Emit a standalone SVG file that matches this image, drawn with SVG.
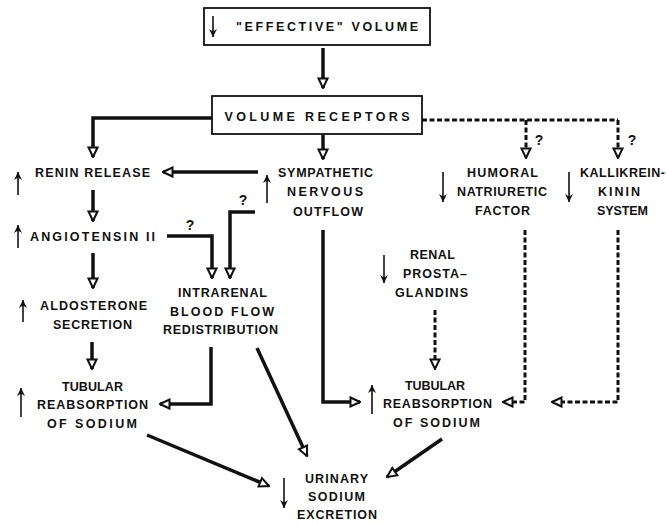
<svg xmlns="http://www.w3.org/2000/svg" width="666" height="524" viewBox="0 0 666 524">
<style>
text{font-family:"Liberation Sans",Arial,sans-serif;font-weight:bold;font-size:12.5px;fill:#111;text-anchor:middle}
.q{font-size:14px}
.box{fill:#fff;stroke:#111;stroke-width:1.8}
.c{fill:none;stroke:#111;stroke-width:3.5;marker-end:url(#open)}
.cn{fill:none;stroke:#111;stroke-width:3.5}
.d{fill:none;stroke:#111;stroke-width:3;stroke-dasharray:5 2.5;marker-end:url(#open)}
.dn{fill:none;stroke:#111;stroke-width:3;stroke-dasharray:5 2.5}
.t{fill:none;stroke:#111;stroke-width:1.6;marker-end:url(#solid)}
</style>
<defs>
<marker id="open" viewBox="0 0 12 12" markerUnits="userSpaceOnUse" markerWidth="12" markerHeight="12" refX="11" refY="6" orient="auto">
<path d="M1.5,1.5 L11,6 L1.5,10.5 Z" fill="#fff" stroke="#111" stroke-width="2"/>
</marker>
<marker id="solid" viewBox="0 0 10 10" markerUnits="userSpaceOnUse" markerWidth="8" markerHeight="8" refX="10" refY="5" orient="auto">
<path d="M0,0 L10,5 L0,10 L3,5 Z" fill="#111"/>
</marker>
</defs>
<rect width="666" height="524" fill="#fff"/>

<g id="connectors">
<path class="c" d="M323,48 V88"/>
<path class="c" d="M212,118 H93 V157"/>
<path class="c" d="M323,135 V159"/>
<path class="c" d="M258,172 H163"/>
<path class="c" d="M93,190 V221"/>
<path class="c" d="M93,253 V288"/>
<path class="c" d="M92,342 V369"/>
<path class="c" d="M167,236 H212 V278"/>
<path class="c" d="M255,212 H230 V278"/>
<path class="c" d="M211,347 V404 H160"/>
<path class="c" d="M257,348 L307,456"/>
<path class="c" d="M147,435 L269,486"/>
<path class="c" d="M323,230 V402 H360"/>
<path class="c" d="M442,439 L387,477"/>
<path class="dn" d="M422,120 H618"/>
<path class="d" d="M618,120 V158"/>
<path class="d" d="M526,120 V158"/>
<path class="d" d="M525,230 V402 H503"/>
<path class="d" d="M618,230 V402 H552"/>
<path class="d" d="M435,310 V369"/>
<text class="q" x="190" y="230">?</text>
<text class="q" x="243" y="205">?</text>
<text class="q" x="539" y="145">?</text>
<text class="q" x="632" y="145">?</text>
</g>

<g id="effective-volume">
<rect class="box" x="204" y="8" width="226" height="37"/>
<path class="t" d="M213,16 V37"/>
<text x="327" y="31" textLength="182" lengthAdjust="spacing">"EFFECTIVE"  VOLUME</text>
</g>

<g id="volume-receptors">
<rect class="box" x="212" y="96" width="210" height="38"/>
<text x="317" y="121" textLength="185" lengthAdjust="spacing">VOLUME  RECEPTORS</text>
</g>

<g id="renin-release">
<path class="t" d="M18,195 V172"/>
<text x="92.5" y="177" textLength="115" lengthAdjust="spacing">RENIN  RELEASE</text>
</g>

<g id="angiotensin">
<path class="t" d="M18,248 V225"/>
<text x="92.5" y="241" textLength="125" lengthAdjust="spacing">ANGIOTENSIN  II</text>
</g>

<g id="aldosterone">
<path class="t" d="M23,322 V300"/>
<text x="93.5" y="310" textLength="107" lengthAdjust="spacing">ALDOSTERONE</text>
<text x="92.5" y="329" textLength="79" lengthAdjust="spacing">SECRETION</text>
</g>

<g id="tubular-left">
<path class="t" d="M21,417 V388"/>
<text x="92.5" y="391" textLength="61" lengthAdjust="spacing">TUBULAR</text>
<text x="92.5" y="409" textLength="111" lengthAdjust="spacing">REABSORPTION</text>
<text x="92" y="428" textLength="90" lengthAdjust="spacing">OF  SODIUM</text>
</g>

<g id="intrarenal">
<text x="222.5" y="297" textLength="89" lengthAdjust="spacing">INTRARENAL</text>
<text x="222" y="316" textLength="104" lengthAdjust="spacing">BLOOD  FLOW</text>
<text x="220.5" y="334" textLength="115" lengthAdjust="spacing">REDISTRIBUTION</text>
</g>

<g id="sympathetic">
<path class="t" d="M267,203 V175"/>
<text x="325.5" y="177" textLength="95" lengthAdjust="spacing">SYMPATHETIC</text>
<text x="325" y="196" textLength="76" lengthAdjust="spacing">NERVOUS</text>
<text x="328" y="216" textLength="70" lengthAdjust="spacing">OUTFLOW</text>
</g>

<g id="humoral">
<path class="t" d="M443,172 V202"/>
<text x="502.5" y="177" textLength="71" lengthAdjust="spacing">HUMORAL</text>
<text x="502" y="196" textLength="90" lengthAdjust="spacing">NATRIURETIC</text>
<text x="502.5" y="215" textLength="55" lengthAdjust="spacing">FACTOR</text>
</g>

<g id="kallikrein">
<path class="t" d="M569,172 V202"/>
<text x="622.5" y="177" textLength="85" lengthAdjust="spacing">KALLIKREIN-</text>
<text x="619" y="196" textLength="42" lengthAdjust="spacing">KININ</text>
<text x="622.5" y="215" textLength="51" lengthAdjust="spacing">SYSTEM</text>
</g>

<g id="prostaglandins">
<path class="t" d="M384,255 V283"/>
<text x="432.5" y="259" textLength="45" lengthAdjust="spacing">RENAL</text>
<text x="435" y="278" textLength="64" lengthAdjust="spacing">PROSTA–</text>
<text x="431.5" y="297" textLength="73" lengthAdjust="spacing">GLANDINS</text>
</g>

<g id="tubular-right">
<path class="t" d="M372,414 V385"/>
<text x="435" y="390" textLength="60" lengthAdjust="spacing">TUBULAR</text>
<text x="437.5" y="408" textLength="109" lengthAdjust="spacing">REABSORPTION</text>
<text x="436.5" y="427" textLength="87" lengthAdjust="spacing">OF  SODIUM</text>
</g>

<g id="urinary">
<path class="t" d="M284,478 V508"/>
<text x="336.5" y="483" textLength="63" lengthAdjust="spacing">URINARY</text>
<text x="336.5" y="501" textLength="57" lengthAdjust="spacing">SODIUM</text>
<text x="337" y="519" textLength="80" lengthAdjust="spacing">EXCRETION</text>
</g>
</svg>
